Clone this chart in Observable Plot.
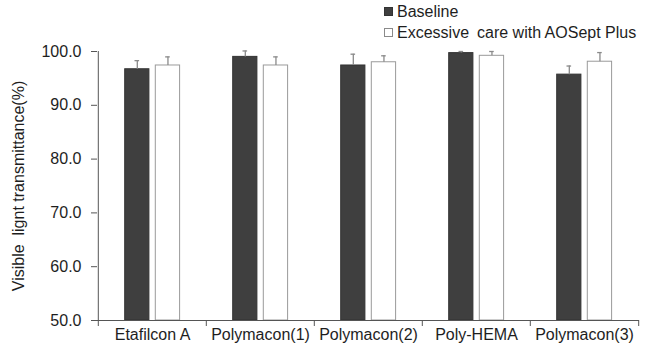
<!DOCTYPE html>
<html>
<head>
<meta charset="utf-8">
<script src="https://cdn.jsdelivr.net/npm/d3@7"></script>
<script src="https://cdn.jsdelivr.net/npm/@observablehq/plot@0.6"></script>
<style>
  body { margin: 0; background: #fff; }
  #chart { position: relative; width: 650px; height: 355px; font-family: "Liberation Sans", Arial, sans-serif; color: #1e1e1e; }
  #legend { position: absolute; left: 384px; top: 1px; font-size: 16px; line-height: 21px; }
  #legend .item { display: flex; align-items: center; white-space: pre; }
  #legend .sw { width: 9px; height: 9px; margin-right: 4px; box-sizing: border-box; }
</style>
</head>
<body>
<div id="chart"></div>
<script>
// Lens materials and their visible light transmittance (%), mean and SD
const categories = ["Etafilcon A", "Polymacon(1)", "Polymacon(2)", "Poly-HEMA", "Polymacon(3)"];
const seriesNames = ["Baseline", "Excessive\u2002care with AOSept Plus"];
const baseline = [96.7, 99.0, 97.4, 99.7, 95.7];
const baselineSD = [1.6, 1.1, 2.1, 0.3, 1.6];
const care = [97.4, 97.4, 98.0, 99.2, 98.1];
const careSD = [1.6, 1.6, 1.2, 0.8, 1.7];
const yTicks = [50, 60, 70, 80, 90, 100];

const rows = (values, sds, series) =>
  categories.map((material, i) => ({material, series, value: values[i], sd: sds[i]}));
const baselineRows = rows(baseline, baselineSD, seriesNames[0]);
const careRows = rows(care, careSD, seriesNames[1]);

const width = 650, height = 355;
const marginLeft = 97, marginRight = 11, marginTop = 51, marginBottom = 35;
const band = (width - marginLeft - marginRight) / categories.length;
const axisColor = "#555";

// One group of bar + upper error whisker per series, placed inside each band
function seriesMarks(data, {fill, stroke, left, barWidth}) {
  const center = left + barWidth / 2;
  const cap = 5;
  return [
    Plot.barY(data, {
      x: "material", y1: 50, y2: "value",
      fill, stroke, strokeWidth: 1,
      insetLeft: left, insetRight: band - left - barWidth
    }),
    Plot.ruleX(data, {
      x: "material", y1: "value", y2: d => d.value + d.sd,
      dx: center - band / 2, stroke: "#8a8a8a", strokeWidth: 1.3
    }),
    Plot.tickY(data, {
      y: d => d.value + d.sd, x: "material",
      insetLeft: center - cap / 2, insetRight: band - center - cap / 2,
      stroke: "#8a8a8a", strokeWidth: 1.3
    })
  ];
}

const plot = Plot.plot({
  width, height, marginLeft, marginRight, marginTop, marginBottom,
  style: {fontFamily: "'Liberation Sans', Arial, sans-serif", fontSize: "16px", color: "#1e1e1e", background: "transparent", overflow: "visible"},
  x: {domain: categories, padding: 0, axis: null},
  y: {domain: [50, 100], axis: null},
  marks: [
    ...seriesMarks(baselineRows, {fill: "#3f3f3f", stroke: "#333", left: 26.7, barWidth: 24.6}),
    ...seriesMarks(careRows, {fill: "#ffffff", stroke: "#9a9a9a", left: 57.3, barWidth: 24.7}),
    // axis lines and category boundary ticks
    Plot.ruleY([50], {stroke: axisColor}),
    Plot.ruleX(categories.slice(0, 1), {x: d => d, dx: -band / 2, stroke: axisColor}),
    Plot.ruleX(categories, {x: d => d, y1: 50, y2: 50, dx: -band / 2, insetBottom: -6, stroke: axisColor}),
    Plot.ruleX(categories.slice(-1), {x: d => d, y1: 50, y2: 50, dx: band / 2, insetBottom: -6, stroke: axisColor}),
    Plot.axisY({
      ticks: yTicks, tickFormat: d3.format(".1f"), tickSize: 6, tickPadding: 10,
      stroke: axisColor, label: "Visible  lignt transmittance(%)", labelAnchor: "center",
      labelOffset: 85, labelArrow: "none"
    }),
    Plot.axisX({tickSize: 0, tickPadding: 8, label: null})
  ]
});

const chart = document.getElementById("chart");
chart.appendChild(plot);

// Legend overlaid at the top right
const legend = document.createElement("div");
legend.id = "legend";
legend.innerHTML = `
  <div class="item"><span class="sw" style="background:#3f3f3f;border:1px solid #333"></span>${seriesNames[0]}</div>
  <div class="item"><span class="sw" style="background:#fff;border:1px solid #8a8a8a"></span>${seriesNames[1]}</div>`;
chart.appendChild(legend);
</script>
</body>
</html>
